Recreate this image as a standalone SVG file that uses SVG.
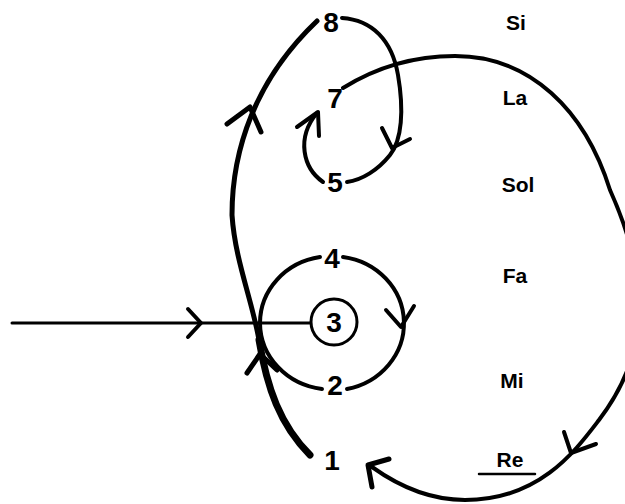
<svg xmlns="http://www.w3.org/2000/svg" width="625" height="504" viewBox="0 0 625 504">
<style>
.c{fill:none;stroke:#000;stroke-linecap:round;stroke-linejoin:round}
.num{font-family:"Liberation Sans",Arial,sans-serif;font-weight:bold;font-size:28px;text-anchor:middle;fill:#000}
.note{font-family:"Liberation Sans",Arial,sans-serif;font-weight:bold;font-size:21px;text-anchor:middle;fill:#000}
</style>
<rect width="625" height="504" fill="#fff"/>
<g id="connectors">
  <path class="c" stroke-width="3" d="M12,323 L311,323"/>
  <path class="c" stroke-width="4" d="M188,309 L201,323 L188,337"/>
  <path class="c" stroke-width="7" d="M310,455 C280,425 267,388 259,340"/>
  <path class="c" stroke-width="5" d="M259,340 C252,300 235,260 232,215 C232,150 255,80 317,21"/>
  <path class="c" stroke-width="5" d="M247,373 L260,354 L277,370"/>
  <path class="c" stroke-width="5" d="M227,124 L250,107 L261,132"/>
  <path class="c" stroke-width="4" d="M320,257 A71,67 0 0 0 260,323"/>
  <path class="c" stroke-width="4" d="M343,257 A71,67 0 0 1 347,389"/>
  <path class="c" stroke-width="4" d="M322,389 A71,67 0 0 1 260,323"/>
  <path class="c" stroke-width="4" d="M386,310 L401,327 L414,306"/>
  <path class="c" stroke-width="4" d="M342,18 C372,20 392,40 398,75 C404,110 402,140 390,155 C378,170 362,180 347,182"/>
  <path class="c" stroke-width="4" d="M382,128 L392,148 L410,139"/>
  <path class="c" stroke-width="4" d="M323,182 C303,168 296,138 317,113"/>
  <path class="c" stroke-width="4" d="M297,127 L318,112 L319,136"/>
  <path class="c" stroke-width="4" d="M343,88 C380,65 420,56 455,56 C530,56 585,110 610,190 C655,290 645,360 599,420 C576,450 540,500 465,500 C430,500 400,487 372,467"/>
  <path class="c" stroke-width="4" d="M564,432 L571,453 L596,444"/>
  <path class="c" stroke-width="5" d="M389,459 L368,465 L372,487"/>
</g>
<g id="n1"><text class="num" x="332" y="470">1</text></g>
<g id="n2"><text class="num" x="335" y="395">2</text></g>
<g id="n3"><circle cx="334" cy="322" r="23" fill="#fff" stroke="#000" stroke-width="3"/><text class="num" x="334" y="332">3</text></g>
<g id="n4"><text class="num" x="332" y="268">4</text></g>
<g id="n5"><text class="num" x="335" y="192">5</text></g>
<g id="n7"><text class="num" x="335" y="108">7</text></g>
<g id="n8"><text class="num" x="331" y="32">8</text></g>
<g id="notes">
  <text class="note" x="516" y="30">Si</text>
  <text class="note" x="515" y="105">La</text>
  <text class="note" x="518" y="192">Sol</text>
  <text class="note" x="515" y="283">Fa</text>
  <text class="note" x="512" y="388">Mi</text>
  <text class="note" x="510" y="467">Re</text>
  <path class="c" stroke-width="2.5" d="M479,474 L535,474"/>
</g>
</svg>
